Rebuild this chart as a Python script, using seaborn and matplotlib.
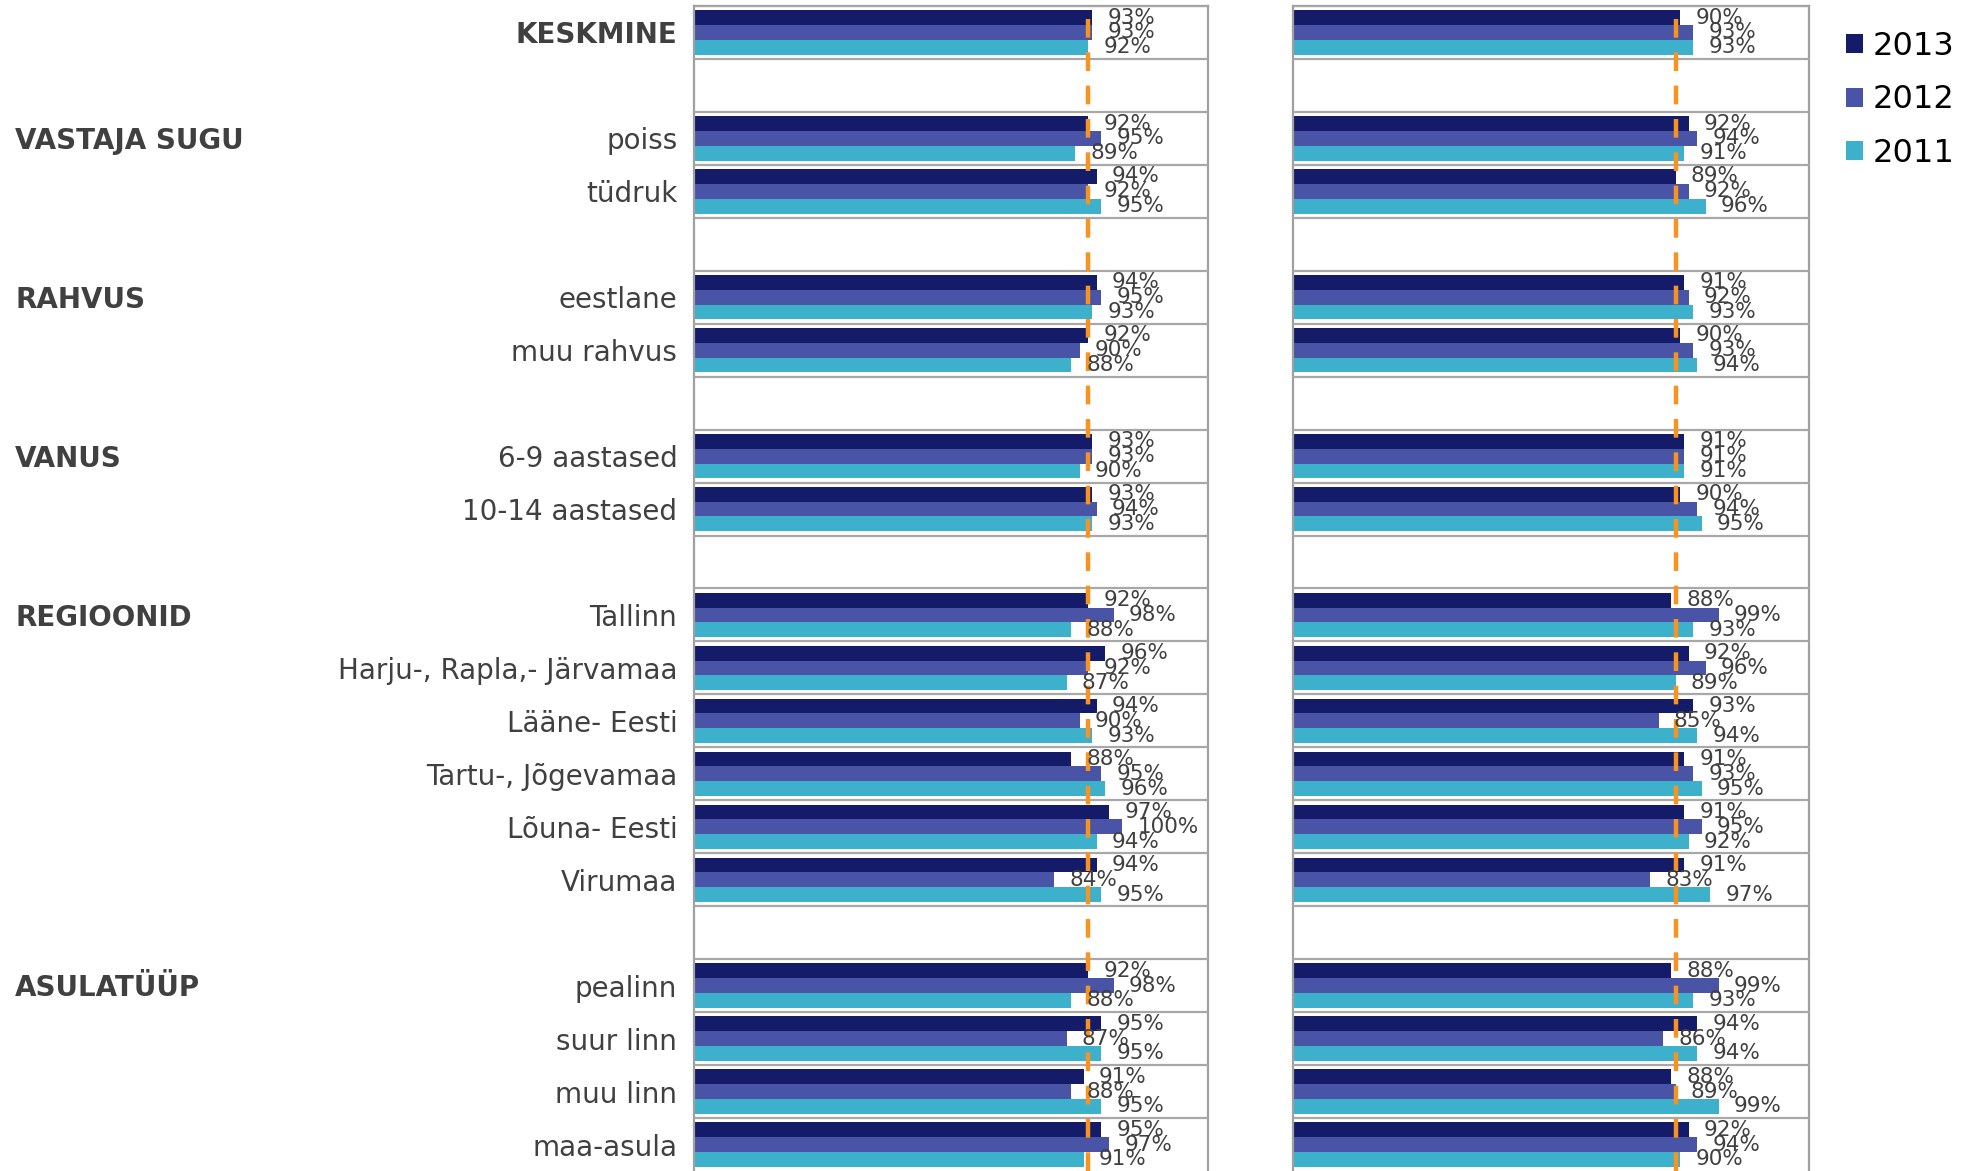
import numpy as np
import pandas as pd
import matplotlib
matplotlib.use("Agg")
import matplotlib.pyplot as plt
import matplotlib.transforms as mtransforms
import seaborn as sns

# ==============================
# DATA
# ==============================

# rows in display order, None = empty spacer row
rows = [
    "KESKMINE", None,
    "poiss", "tüdruk", None,
    "eestlane", "muu rahvus", None,
    "6-9 aastased", "10-14 aastased", None,
    "Tallinn", "Harju-, Rapla,- Järvamaa", "Lääne- Eesti",
    "Tartu-, Jõgevamaa", "Lõuna- Eesti", "Virumaa", None,
    "pealinn", "suur linn", "muu linn", "maa-asula",
]

groups = {
    "VASTAJA SUGU": "poiss",
    "RAHVUS": "eestlane",
    "VANUS": "6-9 aastased",
    "REGIOONID": "Tallinn",
    "ASULATÜÜP": "pealinn",
}

years = ["2013", "2012", "2011"]

# left panel, one value per non-empty row
left_2013 = [93, 92, 94, 94, 92, 93, 93, 92, 96, 94, 88, 97, 94, 92, 95, 91, 95]
left_2012 = [93, 95, 92, 95, 90, 93, 94, 98, 92, 90, 95, 100, 84, 98, 87, 88, 97]
left_2011 = [92, 89, 95, 93, 88, 90, 93, 88, 87, 93, 96, 94, 95, 88, 95, 95, 91]

# right panel
right_2013 = [90, 92, 89, 91, 90, 91, 90, 88, 92, 93, 91, 91, 91, 88, 94, 88, 92]
right_2012 = [93, 94, 92, 92, 93, 91, 94, 99, 96, 85, 93, 95, 83, 99, 86, 89, 94]
right_2011 = [93, 91, 96, 93, 94, 91, 95, 93, 89, 94, 95, 92, 97, 93, 94, 99, 90]

left_ref = 0.92   # dashed reference line
right_ref = 0.89

colors = ["#141b69", "#4954a6", "#3db0cc"]

# ==============================
# HELPERS
# ==============================

# spacer rows need unique category names
order = []
k = 0
for r in rows:
    if r is None:
        k += 1
        order.append("_tühi%d" % k)
    else:
        order.append(r)

labels = [r for r in rows if r is not None]


def make_df(v13, v12, v11):
    parts = []
    for year, vals in zip(years, [v13, v12, v11]):
        parts.append(pd.DataFrame({
            "rida": labels,
            "aasta": year,
            "osakaal": np.array(vals) / 100.0,
        }))
    return pd.concat(parts, ignore_index=True)


def draw_panel(ax, df, ref):
    sns.barplot(
        data=df, y="rida", x="osakaal", hue="aasta",
        order=order, hue_order=years, palette=colors,
        orient="h", width=0.84, saturation=1, linewidth=0,
        errorbar=None, legend=False, ax=ax,
    )
    ax.set_xlim(0, 1.2)
    ax.set_ylim(len(order) - 0.5, -0.5)
    ax.set_xlabel("")
    ax.set_ylabel("")
    ax.set_xticks([])

    # row separators
    ax.set_yticks(np.arange(len(order)) - 0.5, minor=True)
    ax.grid(True, which="minor", axis="y", color="#a8a8a8", lw=1.6)
    ax.tick_params(axis="y", which="both", length=0)
    ax.set_axisbelow(False)

    for s in ["top", "left", "right"]:
        ax.spines[s].set_color("#a0a0a0")
        ax.spines[s].set_linewidth(1.6)
    ax.spines["bottom"].set_visible(False)

    ax.axvline(ref, color="#f7931e", lw=3.2, ls=(0, (4.2, 3.3)), zorder=4)

    for c in ax.containers:
        ax.bar_label(
            c, labels=["%d%%" % round(v * 100) for v in c.datavalues],
            padding=11, fontsize=15.5, color="#404040", zorder=5,
        )


# ==============================
# PLOT
# ==============================

sns.set_style("white")
plt.rcParams["font.family"] = ["DejaVu Sans"]

fig = plt.figure(figsize=(19.73, 11.71), dpi=100)

ax1 = fig.add_axes([694 / 1973, 0.0, 514 / 1973, 0.9949])
ax2 = fig.add_axes([1293 / 1973, 0.0, 516 / 1973, 0.9949])

draw_panel(ax1, make_df(left_2013, left_2012, left_2011), left_ref)
draw_panel(ax2, make_df(right_2013, right_2012, right_2011), right_ref)

# y labels on the left panel only
ax1.set_yticks(range(len(order)))
ax1.set_yticklabels(["" if o.startswith("_tühi") else o for o in order])
ax1.tick_params(axis="y", which="major", pad=12, labelsize=20, labelcolor="#404040")
for t in ax1.get_yticklabels():
    if t.get_text() == "KESKMINE":
        t.set_fontweight("bold")
ax2.set_yticks(range(len(order)))
ax2.set_yticklabels([])

# group headings at the far left
trans = mtransforms.blended_transform_factory(fig.transFigure, ax1.transData)
for name, first in groups.items():
    ax1.text(15 / 1973, order.index(first) + 0.05, name, transform=trans,
             ha="left", va="center", fontsize=20, fontweight="bold",
             color="#404040")

fig.legend(
    handles=list(ax1.containers), labels=years,
    loc="upper left", bbox_to_anchor=(1817 / 1973, 0.998),
    frameon=False, fontsize=23, handlelength=0.55, handleheight=0.55,
    handletextpad=0.3, labelspacing=0.7, labelcolor="black",
)

fig.savefig("out.png", dpi=100)
